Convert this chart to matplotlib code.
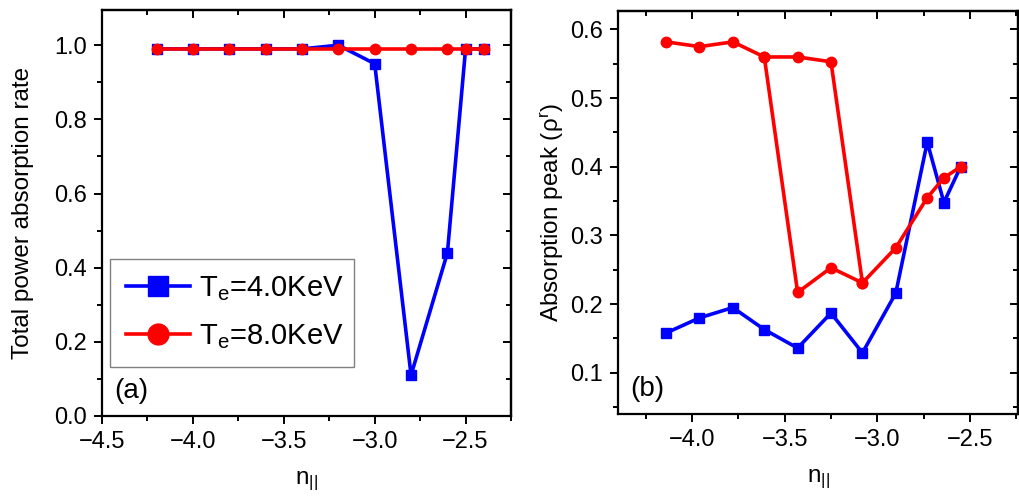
import numpy as np
import matplotlib
matplotlib.use('Agg')
import matplotlib.pyplot as plt
from matplotlib.ticker import MultipleLocator

plt.rcParams['font.family'] = ['Liberation Sans', 'DejaVu Sans']
plt.rcParams['mathtext.default'] = 'regular'

# panel (a): total power absorption rate
n_a = [-4.2, -4.0, -3.8, -3.6, -3.4, -3.2, -3.0, -2.8, -2.6, -2.5, -2.4]
rate_4kev = [0.99, 0.99, 0.99, 0.99, 0.99, 1.0, 0.95, 0.11, 0.44, 0.99, 0.99]
rate_8kev = [0.99, 0.99, 0.99, 0.99, 0.99, 0.99, 0.99, 0.99, 0.99, 0.99, 0.99]

# panel (b): absorption peak position
n_b = [-4.14, -3.96, -3.78, -3.61, -3.43, -3.25, -3.08, -2.90, -2.73, -2.64, -2.55]
peak_4kev = [0.158, 0.180, 0.195, 0.163, 0.136, 0.187, 0.129, 0.216, 0.436, 0.348, 0.400]
peak_8kev = [0.582, 0.575, 0.582, 0.560, 0.217, 0.253, 0.231, 0.282, 0.355, 0.384, 0.400]
# second 8 keV branch (upper solutions)
n_b_alt = [-3.61, -3.43, -3.25, -3.08]
peak_8kev_alt = [0.560, 0.560, 0.553, 0.231]

labels = ['T$_e$=4.0KeV', 'T$_e$=8.0KeV']
blue = '#0000ff'
red = '#ff0000'

fig = plt.figure(figsize=(10.19, 4.98), dpi=100)
ax1 = fig.add_axes([0.1001, 0.1647, 0.4014, 0.8153])
ax2 = fig.add_axes([0.6065, 0.1687, 0.3925, 0.8093])

lw = 2.6
ms = 7.5
fs = 17.5

ax1.plot(n_a, rate_4kev, color=blue, lw=lw, marker='s', ms=ms, label=labels[0])
ax1.plot(n_a, rate_8kev, color=red, lw=lw, marker='o', ms=ms, label=labels[1])
ax1.set_xlim(-4.5, -2.25)
ax1.set_ylim(0, 1.095)
ax1.xaxis.set_major_locator(MultipleLocator(0.5))
ax1.xaxis.set_minor_locator(MultipleLocator(0.25))
ax1.yaxis.set_major_locator(MultipleLocator(0.2))
ax1.yaxis.set_minor_locator(MultipleLocator(0.1))
ax1.set_ylabel('Total power absorption rate', fontsize=fs, labelpad=14)
ax1.set_xlabel('n$_{||}$', fontsize=fs, labelpad=12)
ax1.text(0.03, 0.045, '(a)', transform=ax1.transAxes, fontsize=20)
leg = ax1.legend(loc='lower left', bbox_to_anchor=(0.02, 0.12, 0.595, 0.27), mode='expand',
                 borderaxespad=0, fontsize=21, markerscale=2.0, handlelength=2.2,
                 handletextpad=0.3, borderpad=0.55, labelspacing=0.65, fancybox=False,
                 framealpha=1)
leg.get_frame().set_edgecolor('#808080')
leg.get_frame().set_linewidth(1.0)

ax2.plot(n_b_alt, peak_8kev_alt, color=red, lw=lw, marker='o', ms=ms)
ax2.plot(n_b, peak_4kev, color=blue, lw=lw, marker='s', ms=ms)
ax2.plot(n_b, peak_8kev, color=red, lw=lw, marker='o', ms=ms)
ax2.set_xlim(-4.40, -2.24)
ax2.set_ylim(0.04, 0.627)
ax2.xaxis.set_major_locator(MultipleLocator(0.5))
ax2.xaxis.set_minor_locator(MultipleLocator(0.25))
ax2.yaxis.set_major_locator(MultipleLocator(0.1))
ax2.yaxis.set_minor_locator(MultipleLocator(0.05))
ax2.set_ylabel('Absorption peak ($\\rho^r$)', fontsize=fs, labelpad=3)
ax2.set_xlabel('n$_{||}$', fontsize=fs, labelpad=12)
ax2.text(0.03, 0.045, '(b)', transform=ax2.transAxes, fontsize=20)

for ax in (ax1, ax2):
    for s in ax.spines.values():
        s.set_linewidth(1.6)
    ax.tick_params(which='both', direction='out', labelsize=17, width=1.4)
    ax.tick_params(which='major', length=6, pad=5)
    ax.tick_params(which='minor', length=3.5)
    # mirrored inward ticks on top/right, no labels
    axr = ax.secondary_yaxis('right')
    axt = ax.secondary_xaxis('top')
    axr.set_yticks(ax.get_yticks())
    axr.yaxis.set_minor_locator(ax.yaxis.get_minor_locator())
    axt.set_xticks(ax.get_xticks())
    axt.xaxis.set_minor_locator(ax.xaxis.get_minor_locator())
    for sec in (axr, axt):
        sec.tick_params(which='both', direction='in', labelleft=False, labelright=False,
                        labeltop=False, labelbottom=False, width=1.4)
        sec.tick_params(which='major', length=6)
        sec.tick_params(which='minor', length=3.5)
        for s in sec.spines.values():
            s.set_linewidth(1.6)

fig.savefig('out.png', dpi=100)
